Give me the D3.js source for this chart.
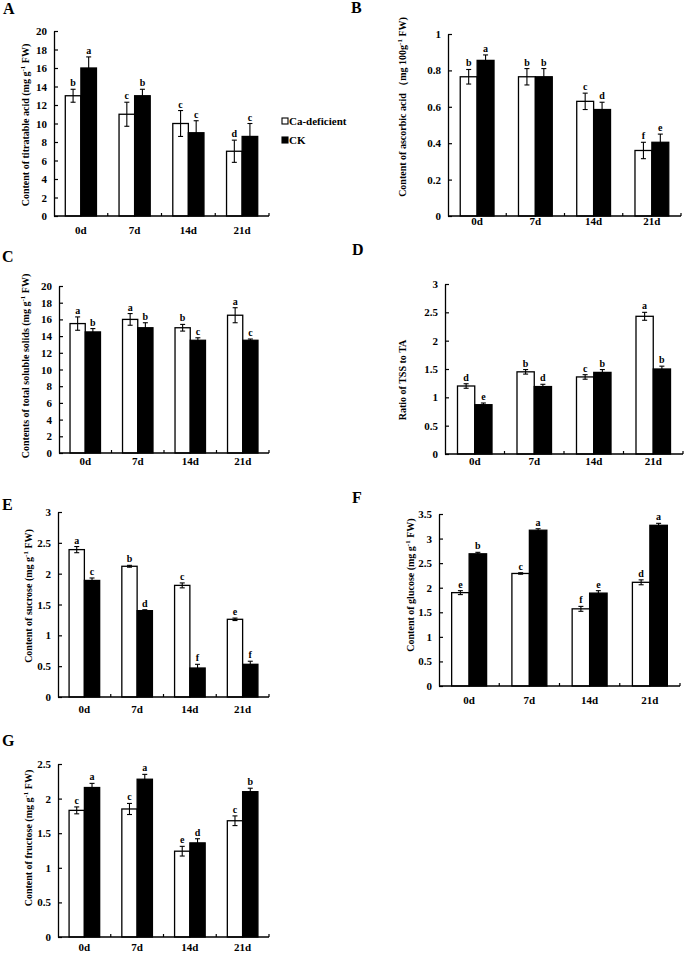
<!DOCTYPE html>
<html><head><meta charset="utf-8">
<script src="https://cdn.jsdelivr.net/npm/d3@7"></script>
<style>
html,body{margin:0;padding:0;background:#fff;}
svg{display:block;}
text{font-family:"Liberation Serif","Times New Roman",serif;font-weight:bold;fill:#000;}
</style></head>
<body>
<svg id="chart" width="685" height="953"></svg>
<script>
// ---------- DATA ----------
const categories = ["0d", "7d", "14d", "21d"];
const seriesNames = ["Ca-deficient", "CK"];

// A: titratable acid
const taCa = [13, 11, 10, 7];
const taCaErr = [0.7, 1.3, 1.4, 1.2];
const taCK = [16, 13, 9, 8.6];
const taCKErr = [1.2, 0.7, 1.3, 1.4];
const taCaSig = ["b", "c", "c", "d"];
const taCKSig = ["a", "b", "c", "c"];
const taTicks = [0, 2, 4, 6, 8, 10, 12, 14, 16, 18, 20];

// B: ascorbic acid
const aaCa = [0.765, 0.765, 0.63, 0.36];
const aaCaErr = [0.04, 0.045, 0.045, 0.045];
const aaCK = [0.855, 0.765, 0.585, 0.405];
const aaCKErr = [0.03, 0.045, 0.04, 0.045];
const aaCaSig = ["b", "b", "c", "f"];
const aaCKSig = ["a", "b", "d", "e"];
const aaTicks = [0, 0.2, 0.4, 0.6, 0.8, 1];

// C: total soluble solids
const tssCa = [15.5, 16, 15, 16.5];
const tssCaErr = [0.8, 0.7, 0.4, 0.9];
const tssCK = [14.5, 15, 13.5, 13.5];
const tssCKErr = [0.4, 0.6, 0.3, 0.15];
const tssCaSig = ["a", "a", "b", "a"];
const tssCKSig = ["b", "b", "c", "c"];
const tssTicks = [0, 2, 4, 6, 8, 10, 12, 14, 16, 18, 20];

// D: ratio TSS/TA
const rCa = [1.2, 1.45, 1.36, 2.43];
const rCaErr = [0.04, 0.04, 0.04, 0.07];
const rCK = [0.87, 1.19, 1.44, 1.5];
const rCKErr = [0.03, 0.04, 0.05, 0.05];
const rCaSig = ["d", "b", "c", "a"];
const rCKSig = ["e", "d", "b", "b"];
const rTicks = [0, 0.5, 1, 1.5, 2, 2.5, 3];

// E: sucrose
const suCa = [2.39, 2.12, 1.81, 1.26];
const suCaErr = [0.05, 0.015, 0.04, 0.02];
const suCK = [1.89, 1.4, 0.47, 0.53];
const suCKErr = [0.04, 0.015, 0.06, 0.05];
const suCaSig = ["a", "b", "c", "e"];
const suCKSig = ["c", "d", "f", "f"];
const suTicks = [0, 0.5, 1, 1.5, 2, 2.5, 3];

// F: glucose
const glCa = [1.9, 2.29, 1.57, 2.11];
const glCaErr = [0.04, 0.015, 0.05, 0.05];
const glCK = [2.69, 3.17, 1.89, 3.27];
const glCKErr = [0.03, 0.03, 0.05, 0.04];
const glCaSig = ["e", "c", "f", "d"];
const glCKSig = ["b", "a", "e", "a"];
const glTicks = [0, 0.5, 1, 1.5, 2, 2.5, 3, 3.5];

// G: fructose
const frCa = [1.83, 1.85, 1.24, 1.68];
const frCaErr = [0.05, 0.08, 0.07, 0.07];
const frCK = [2.16, 2.28, 1.36, 2.1];
const frCKErr = [0.06, 0.07, 0.06, 0.05];
const frCaSig = ["c", "c", "e", "c"];
const frCKSig = ["a", "a", "d", "b"];
const frTicks = [0, 0.5, 1, 1.5, 2, 2.5];

// ---------- LAYOUT ----------
const svg = d3.select("#chart");

function drawPanel(cfg) {
  const g = svg.append("g");
  const x = d3.scaleBand().domain(categories).range([cfg.x0, cfg.x1]).padding(0);
  const inner = d3.scaleBand().domain(seriesNames)
    .range([x.bandwidth() * 0.21, x.bandwidth() * 0.79]).padding(0);
  const y = d3.scaleLinear().domain([0, cfg.ticks[cfg.ticks.length - 1]]).range([cfg.y0, cfg.yTop]);

  const rows = [];
  categories.forEach((c, i) => {
    rows.push({cat: c, s: seriesNames[0], v: cfg.ca[i], e: cfg.caErr[i], sig: cfg.caSig[i]});
    rows.push({cat: c, s: seriesNames[1], v: cfg.ck[i], e: cfg.ckErr[i], sig: cfg.ckSig[i]});
  });

  // bars
  g.selectAll("rect.bar").data(rows).enter().append("rect")
    .attr("x", d => x(d.cat) + inner(d.s))
    .attr("y", d => y(d.v))
    .attr("width", inner.bandwidth())
    .attr("height", d => y(0) - y(d.v))
    .attr("fill", d => d.s === "CK" ? "#000" : "#fff")
    .attr("stroke", "#000").attr("stroke-width", 1.3);

  // error bars
  const eb = g.selectAll("g.err").data(rows).enter().append("g")
    .attr("stroke", "#000").attr("stroke-width", 1.1);
  const cx = d => x(d.cat) + inner(d.s) + inner.bandwidth() / 2;
  eb.append("line").attr("x1", cx).attr("x2", cx)
    .attr("y1", d => y(d.v + d.e)).attr("y2", d => y(d.v - d.e));
  eb.append("line").attr("x1", d => cx(d) - 2.5).attr("x2", d => cx(d) + 2.5)
    .attr("y1", d => y(d.v + d.e)).attr("y2", d => y(d.v + d.e));
  eb.append("line").attr("x1", d => cx(d) - 2.5).attr("x2", d => cx(d) + 2.5)
    .attr("y1", d => y(d.v - d.e)).attr("y2", d => y(d.v - d.e))
    .attr("stroke", d => d.s === "CK" ? "#000" : "#000");

  // significance letters
  g.selectAll("text.sig").data(rows).enter().append("text")
    .attr("x", cx).attr("y", d => y(d.v + d.e) - 3)
    .attr("text-anchor", "middle").attr("font-size", 10).text(d => d.sig);

  // y axis
  const yAxis = d3.axisLeft(y).tickValues(cfg.ticks).tickSizeInner(-4).tickSizeOuter(0)
    .tickPadding(7).tickFormat(d => String(+d.toFixed(2)));
  const ya = g.append("g").attr("transform", `translate(${cfg.x0},0)`).call(yAxis);
  ya.select(".domain").attr("stroke-width", 1.3);
  ya.selectAll(".tick line").attr("stroke-width", 1.2);
  ya.selectAll(".tick text").attr("font-size", 11)
    .attr("font-family", '"Liberation Serif", serif').attr("font-weight", "bold");

  // x axis: ticks at band boundaries, inward
  const xa = g.append("g").attr("transform", `translate(0,${cfg.y0})`);
  xa.append("line").attr("x1", cfg.x0).attr("x2", cfg.x1).attr("y1", 0).attr("y2", 0)
    .attr("stroke", "#000").attr("stroke-width", 1.3);
  const bounds = categories.map(c => x(c) + x.bandwidth());
  xa.selectAll("line.t").data(bounds).enter().append("line")
    .attr("x1", d => d).attr("x2", d => d).attr("y1", 0).attr("y2", -3)
    .attr("stroke", "#000").attr("stroke-width", 1.2);
  xa.selectAll("text").data(categories).enter().append("text")
    .attr("x", c => x(c) + x.bandwidth() / 2).attr("y", cfg.xLabelY - cfg.y0)
    .attr("text-anchor", "middle").attr("font-size", 11).text(c => c);

  // y title
  const t = g.append("text")
    .attr("transform", `translate(${cfg.labX},${cfg.labY}) rotate(-90)`)
    .attr("text-anchor", "middle").attr("dy", "0.35em").attr("font-size", 10);
  cfg.title.forEach(p => {
    const ts = t.append("tspan").text(p.t);
    if (p.sup) ts.attr("font-size", 7).attr("dy", -4);
    if (p.after) ts.attr("dy", 4);
  });

  // panel letter
  svg.append("text").attr("x", cfg.lx).attr("y", cfg.ly).attr("font-size", 16).text(cfg.letter);
}

drawPanel({letter: "A", lx: 3, ly: 14, x0: 54, x1: 269, yTop: 31, y0: 216, xLabelY: 234,
  labX: 25, labY: 125, ticks: taTicks, ca: taCa, caErr: taCaErr, ck: taCK, ckErr: taCKErr,
  caSig: taCaSig, ckSig: taCKSig,
  title: [{t: "Content of titratable acid (mg g"}, {t: "-1", sup: true}, {t: " FW)", after: true}]});

drawPanel({letter: "B", lx: 351, ly: 13, x0: 448, x1: 681, yTop: 34, y0: 216, xLabelY: 225,
  labX: 402, labY: 107, ticks: aaTicks, ca: aaCa, caErr: aaCaErr, ck: aaCK, ckErr: aaCKErr,
  caSig: aaCaSig, ckSig: aaCKSig,
  title: [{t: "Content of ascorbic acid （mg 100g"}, {t: "-1", sup: true}, {t: " FW)", after: true}]});

drawPanel({letter: "C", lx: 2, ly: 262, x0: 59, x1: 269, yTop: 286, y0: 453, xLabelY: 465,
  labX: 25, labY: 366, ticks: tssTicks, ca: tssCa, caErr: tssCaErr, ck: tssCK, ckErr: tssCKErr,
  caSig: tssCaSig, ckSig: tssCKSig,
  title: [{t: "Contents of total soluble solids (mg g"}, {t: "-1", sup: true}, {t: " FW)", after: true}]});

drawPanel({letter: "D", lx: 352, ly: 255, x0: 445, x1: 683, yTop: 284, y0: 454, xLabelY: 465,
  labX: 402, labY: 380, ticks: rTicks, ca: rCa, caErr: rCaErr, ck: rCK, ckErr: rCKErr,
  caSig: rCaSig, ckSig: rCKSig,
  title: [{t: "Ratio of TSS to TA"}]});

drawPanel({letter: "E", lx: 2, ly: 510, x0: 58, x1: 269, yTop: 512, y0: 697, xLabelY: 713,
  labX: 28, labY: 596, ticks: suTicks, ca: suCa, caErr: suCaErr, ck: suCK, ckErr: suCKErr,
  caSig: suCaSig, ckSig: suCKSig,
  title: [{t: "Content of sucrose (mg g"}, {t: "-1", sup: true}, {t: " FW)", after: true}]});

drawPanel({letter: "F", lx: 352, ly: 503, x0: 439, x1: 680, yTop: 514, y0: 686, xLabelY: 704,
  labX: 410, labY: 585, ticks: glTicks, ca: glCa, caErr: glCaErr, ck: glCK, ckErr: glCKErr,
  caSig: glCaSig, ckSig: glCKSig,
  title: [{t: "Content of glucose (mg g"}, {t: "-1", sup: true}, {t: " FW)", after: true}]});

drawPanel({letter: "G", lx: 2, ly: 746, x0: 58, x1: 269, yTop: 764, y0: 937, xLabelY: 951,
  labX: 28, labY: 838, ticks: frTicks, ca: frCa, caErr: frCaErr, ck: frCK, ckErr: frCKErr,
  caSig: frCaSig, ckSig: frCKSig,
  title: [{t: "Content of fructose (mg g"}, {t: "-1", sup: true}, {t: " FW)", after: true}]});

// legend (panel A)
const legend = svg.append("g");
const legendY = d3.scalePoint().domain(seriesNames).range([121, 140]);
legend.selectAll("rect").data(seriesNames).enter().append("rect")
  .attr("x", 282).attr("y", s => legendY(s) - 3).attr("width", 6).attr("height", 6)
  .attr("fill", s => s === "CK" ? "#000" : "#fff").attr("stroke", "#000").attr("stroke-width", 1.1);
legend.selectAll("text").data(seriesNames).enter().append("text")
  .attr("x", 289).attr("y", s => legendY(s) + 4).attr("font-size", 11).text(s => s);
</script>
</body></html>
